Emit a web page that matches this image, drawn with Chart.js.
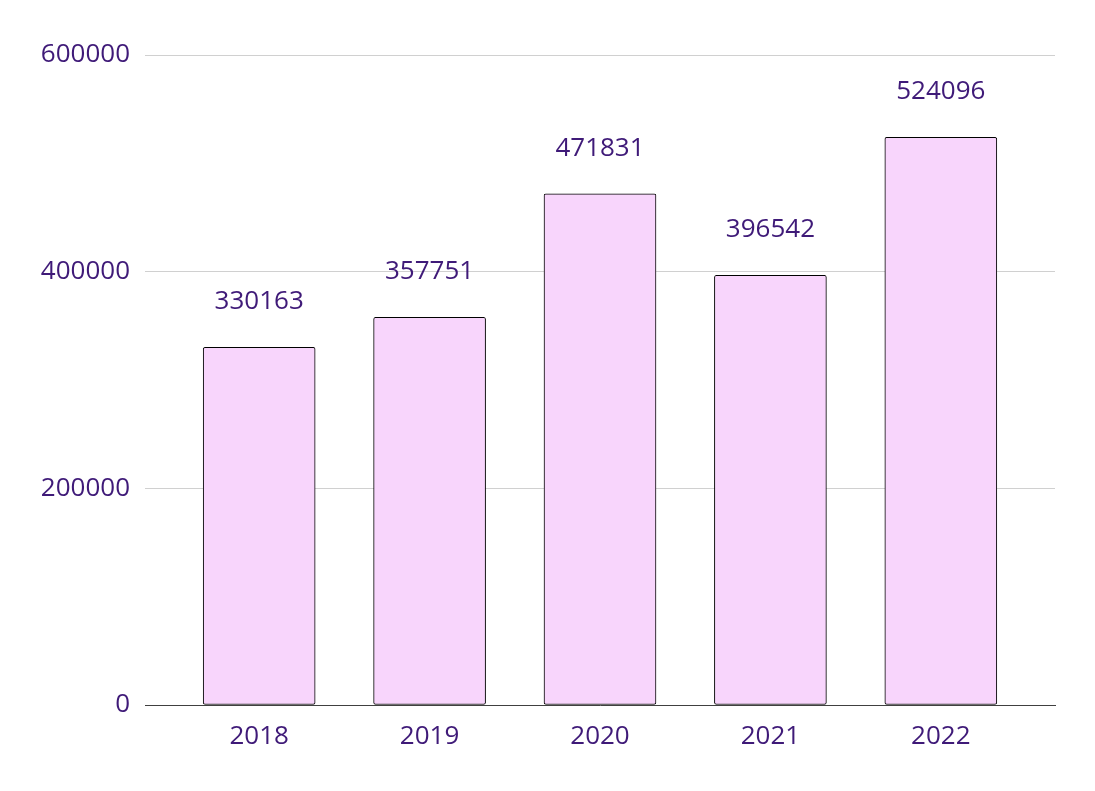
<!DOCTYPE html>
<html lang="en">
<head>
  <meta charset="UTF-8"/>
  <title>Yearly totals</title>
  <style>
    * { box-sizing: border-box; }
    body { margin: 0; background: #fff; }
    .wrap { width: 1095px; height: 791px; position: relative; }
  </style>
  <script src="https://cdn.jsdelivr.net/npm/chart.js"></script>
</head>
<body>
  <div class="wrap"><canvas id="chart"></canvas></div>
  <script>
    const years = ['2018', '2019', '2020', '2021', '2022'];
    const values = [330163, 357751, 471831, 396542, 524096];
    const yTicks = [0, 200000, 400000, 600000];

    const textColor = '#3f1a78';
    const font = { family: "'Open Sans', sans-serif", size: 26 };

    // value labels above each bar
    const valueLabels = {
      id: 'valueLabels',
      afterDatasetsDraw(chart) {
        const ctx = chart.ctx;
        const meta = chart.getDatasetMeta(0);
        ctx.save();
        ctx.fillStyle = textColor;
        ctx.font = `${font.size}px ${font.family}`;
        ctx.textAlign = 'center';
        ctx.textBaseline = 'alphabetic';
        meta.data.forEach((bar, i) => {
          ctx.fillText(String(values[i]), bar.x, bar.y - 38);
        });
        ctx.restore();
      }
    };

    // x is a linear index axis so the outer gaps match the gaps between bars
    const points = years.map((y, i) => ({ x: i, y: values[i] }));

    new Chart(document.getElementById('chart'), {
      type: 'bar',
      data: {
        datasets: [{
          data: points,
          backgroundColor: '#f8d5fc',
          borderColor: '#000',
          borderWidth: 1,
          borderRadius: 2,
          borderSkipped: false,
          barThickness: 112
        }]
      },
      options: {
        animation: false,
        responsive: true,
        maintainAspectRatio: false,
        layout: { padding: { top: 55, right: 40, left: 0, bottom: 0 } },
        scales: {
          x: {
            type: 'linear',
            offset: false,
            min: -0.67, max: 4.67,
            afterBuildTicks(s) { s.ticks = years.map((y, i) => ({ value: i })); },
            grid: { display: false },
            border: { display: true, color: '#404040', width: 1 },
            ticks: { color: textColor, font, padding: 8, callback: v => years[v] },
            afterFit(s) { s.height = 86; }
          },
          y: {
            min: 0, max: 600000,
            afterBuildTicks(s) { s.ticks = yTicks.map(v => ({ value: v })); },
            grid: { color: '#d0d0d0', lineWidth: 1, drawTicks: false },
            border: { display: false },
            ticks: { color: textColor, font, padding: 15, callback: v => String(v) },
            afterFit(s) { s.width = 145; }
          }
        },
        plugins: { legend: { display: false }, tooltip: { enabled: false } }
      },
      plugins: [valueLabels]
    });
  </script>
</body>
</html>
